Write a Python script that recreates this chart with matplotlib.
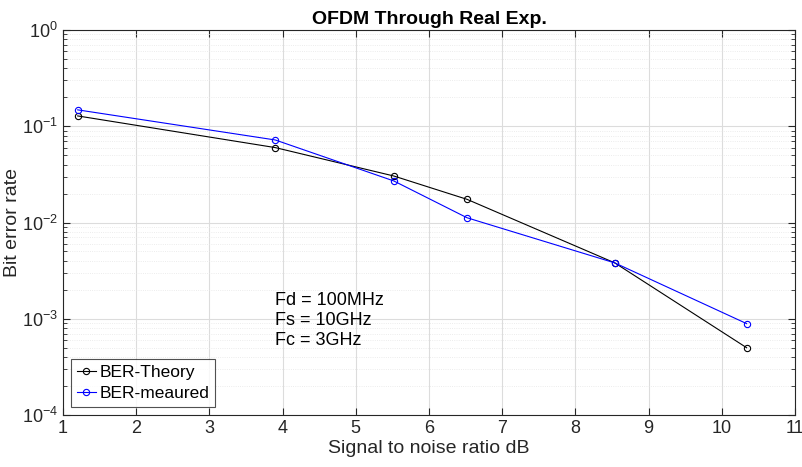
import numpy as np
import matplotlib
matplotlib.use("Agg")
import matplotlib.pyplot as plt
from matplotlib.ticker import LogLocator, FixedLocator, NullFormatter

# datos
snr_db = [1.2, 3.9, 5.52, 6.52, 8.54, 10.34]
ber_theory = [0.128, 0.060, 0.0304, 0.0174, 0.0038, 0.0005]
ber_measured = [0.148, 0.072, 0.027, 0.0112, 0.0038, 0.00089]
x_ticks = [1, 2, 3, 4, 5, 6, 7, 8, 9, 10, 11]
params_text = "Fd = 100MHz\nFs = 10GHz\nFc = 3GHz"

plt.rcParams['font.family'] = ['Liberation Sans', 'DejaVu Sans']

fig = plt.figure(figsize=(8.03, 4.67), dpi=100)
ax = fig.add_axes([0.0785, 0.1113, 0.9115, 0.8245])

ax.semilogy(snr_db, ber_theory, '-o', color='black', lw=0.8, ms=4.5,
            mfc='none', mew=0.8, label='BER-Theory')
ax.semilogy(snr_db, ber_measured, '-o', color='blue', lw=0.8, ms=4.5,
            mfc='none', mew=0.8, label='BER-meaured')

ax.set_xlim(1, 11)
ax.set_ylim(1e-4, 1)
ax.xaxis.set_major_locator(FixedLocator(x_ticks))
ax.yaxis.set_major_locator(LogLocator(base=10, numticks=10))
ax.yaxis.set_minor_locator(LogLocator(base=10, subs=np.arange(2, 10), numticks=20))
ax.yaxis.set_minor_formatter(NullFormatter())

# estilo tipo MATLAB
ax.grid(True, which='major', color='#dcdcdc', lw=0.8)
ax.grid(True, which='minor', axis='y', color='#e6e6e6', lw=0.6, ls=':')
ax.set_axisbelow(True)
ax.tick_params(which='both', direction='in', top=True, right=True, labelsize=13, colors='#262626')
ax.tick_params(which='major', length=5)
ax.tick_params(which='minor', length=3)
for s in ax.spines.values():
    s.set_color('#262626')
    s.set_linewidth(0.8)

ax.set_title('OFDM Through Real Exp.', fontsize=14, fontweight='bold', pad=4)
ax.set_xlabel('Signal to noise ratio dB', fontsize=14, color='#262626', labelpad=2)
ax.set_ylabel('Bit error rate', fontsize=14, color='#262626', labelpad=1)

ax.text(3.9, 0.0019, params_text, fontsize=13, va='top', ha='left', linespacing=1.25)

leg = ax.legend(loc='lower left', fontsize=12.5, frameon=True, fancybox=False,
                edgecolor='#262626', handlelength=1.1, handletextpad=0.2,
                borderaxespad=0.45, borderpad=0.35, labelspacing=0.35)
leg.get_frame().set_linewidth(0.8)

fig.savefig('out.png', dpi=100)
